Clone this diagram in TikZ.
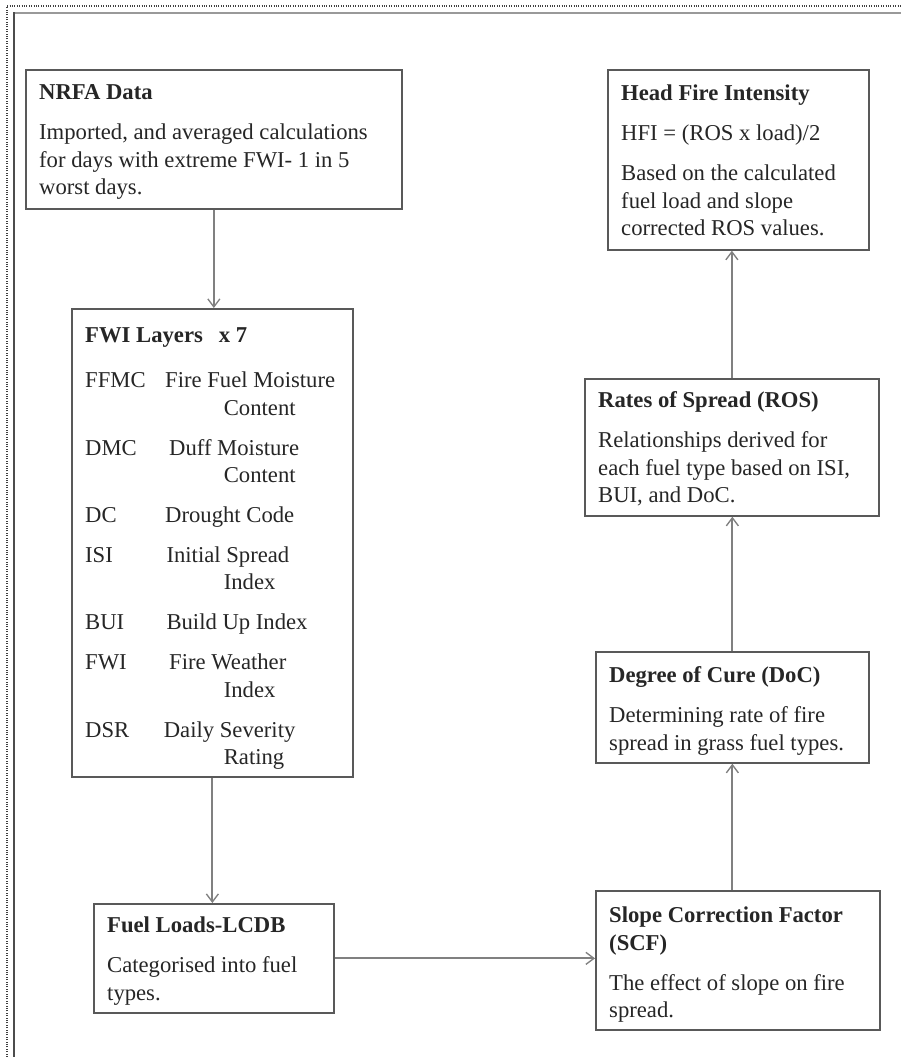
\documentclass[tikz,border=0pt]{standalone}
\usepackage{fontspec}
\setmainfont{Liberation Serif}
\usetikzlibrary{arrows.meta}

\newcommand{\stagetext}[3]{\parbox[c][#2][t]{#1}{#3}}
\newcommand{\abbr}[2][60pt]{\makebox[#1][l]{#2}}

\begin{document}
\begin{tikzpicture}[x=0.75pt,y=-0.75pt,
	stage/.style={draw=black!65, line width=1.3pt, anchor=north west, inner xsep=10pt, inner ysep=0pt, text=black!85, font=\fontsize{17}{20.5}\selectfont},
	flow/.style={draw=black!50, line width=1.5pt, -{Straight Barb[length=6pt,width=9pt,line width=1pt]}}]
	\path[fill=white] (0,0) rectangle (901,1057);
	\useasboundingbox (0,0) rectangle (901,1057);
	% page frame
	\draw[densely dotted, line width=0.8pt, black!75] (7,1057) -- (7,6) -- (901,6);
	\draw[line width=2.2pt, black!40] (14,13) -- (901,13);
	\draw[line width=1.6pt, black!70] (14,1057) -- (14,12);
	%
	\node[stage] (nrfa) at (25,69) {\stagetext{262pt}{104.25pt}{\rule{0pt}{22.5pt}\textbf{NRFA Data}\\[9.5pt]
		Imported, and averaged calculations\\
		for days with extreme FWI- 1 in 5\\
		worst days.}};
	\node[stage] (fwi) at (71,308) {\stagetext{190.75pt}{351pt}{\rule{0pt}{25.5pt}\textbf{FWI Layers\hspace{12pt}x 7}\\[13.25pt]
		\abbr{FFMC}Fire Fuel Moisture\\ \hspace*{104pt}Content\\[9.5pt]
		\abbr[63pt]{DMC}Duff Moisture\\ \hspace*{104pt}Content\\[9.5pt]
		\abbr{DC}Drought Code\\[9.5pt]
		\abbr[61pt]{ISI}Initial Spread\\ \hspace*{104pt}Index\\[9.5pt]
		\abbr[61pt]{BUI}Build Up Index\\[9.5pt]
		\abbr[63pt]{FWI}Fire Weather\\ \hspace*{104pt}Index\\[9.5pt]
		\abbr[59pt]{DSR}Daily Severity\\ \hspace*{104pt}Rating}};
	\node[stage] (fuel) at (93,903) {\stagetext{160pt}{81.75pt}{\rule{0pt}{21.75pt}\textbf{Fuel Loads-LCDB}\\[9.5pt]
		Categorised into fuel\\
		types.}};
	\node[stage] (scf) at (595,890) {\stagetext{193pt}{104.25pt}{\rule{0pt}{24pt}\textbf{Slope Correction Factor}\\
		\textbf{(SCF)}\\[9.5pt]
		The effect of slope on fire\\
		spread.}};
	\node[stage] (doc) at (595,651) {\stagetext{184.75pt}{83.25pt}{\rule{0pt}{23.25pt}\textbf{Degree of Cure (DoC)}\\[9.5pt]
		Determining rate of fire\\
		spread in grass fuel types.}};
	\node[stage] (ros) at (584,378) {\stagetext{200.5pt}{102.75pt}{\rule{0pt}{21.75pt}\textbf{Rates of Spread (ROS)}\\[9.5pt]
		Relationships derived for\\
		each fuel type based on ISI,\\
		BUI, and DoC.}};
	\node[stage] (hfi) at (607,69) {\stagetext{175.75pt}{135pt}{\rule{0pt}{23.25pt}\textbf{Head Fire Intensity}\\[9.5pt]
		HFI = (ROS x load)/2\\[9.5pt]
		Based on the calculated\\
		fuel load and slope\\
		corrected ROS values.}};
	%
	\draw[flow] (nrfa.south) -- (nrfa.south |- fwi.north);
	\draw[flow] (fwi.south) -- (fwi.south |- fuel.north);
	\draw[flow] (fuel.east) -- (fuel.east -| scf.west);
	\draw[flow] (doc.south |- scf.north) -- (doc.south);
	\draw[flow] (doc.north) -- (doc.north |- ros.south);
	\draw[flow] (ros.north) -- (ros.north |- hfi.south);
\end{tikzpicture}
\end{document}
